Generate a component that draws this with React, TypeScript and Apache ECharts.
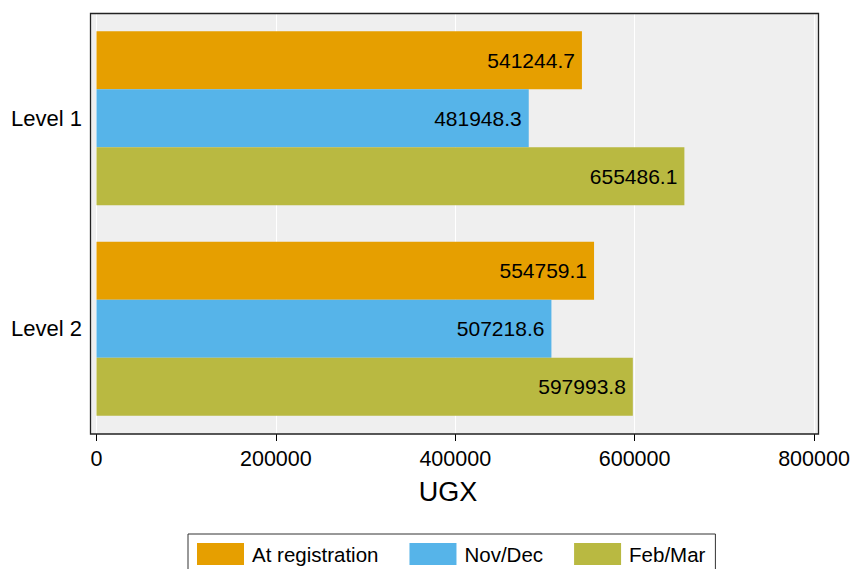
import React, { useEffect, useRef } from "react";
import * as echarts from "echarts";

const categories = ["Level 1", "Level 2"];
const seriesNames = ["At registration", "Nov/Dec", "Feb/Mar"];
const atRegistration = [541244.7, 554759.1];
const novDec = [481948.3, 507218.6];
const febMar = [655486.1, 597993.8];
const colors = ["#e69f00", "#56b4e9", "#b9b941"];
const axisTitle = "UGX";

const FONT = "'Liberation Sans', Arial, Helvetica, sans-serif";

export default function App() {
  const ref = useRef<HTMLDivElement>(null);
  useEffect(() => {
    document.body.style.margin = "0";
    const chart = echarts.init(ref.current!, null, { renderer: "svg" });
    const values = [atRegistration, novDec, febMar];
    chart.setOption({
      animation: false,
      textStyle: { fontFamily: FONT },
      grid: { left: 96.5, right: 853 - 814, top: 13, bottom: 569 - 434 },
      xAxis: {
        type: "value",
        min: 0,
        max: 800000,
        interval: 200000,
        axisLine: { show: false },
        axisTick: { show: true, length: 7, lineStyle: { color: "#000", width: 1 } },
        axisLabel: {
          color: "#000",
          fontSize: 21.5,
          margin: 14,
          fontFamily: FONT,
          formatter: (v: number) => String(v),
        },
        splitLine: { show: true, lineStyle: { color: "#ffffff", width: 1 } },
      },
      yAxis: {
        type: "category",
        data: categories,
        inverse: true,
        axisLine: { show: false },
        axisTick: { show: false },
        axisLabel: { color: "#000", fontSize: 22, margin: 14.5, fontFamily: FONT },
        splitLine: { show: false },
      },
      legend: {
        left: 188,
        top: 534,
        orient: "horizontal",
        data: seriesNames,
        icon: "rect",
        itemWidth: 47,
        itemHeight: 22,
        itemGap: 31,
        padding: [9, 10, 9, 9],
        borderColor: "#333",
        borderWidth: 1,
        textStyle: { color: "#000", fontSize: 20.5, fontFamily: FONT, padding: [0, 0, 0, 3] },
      },
      graphic: [
        {
          type: "rect",
          z: -10,
          silent: true,
          shape: { x: 90.5, y: 13.5, width: 728, height: 420.5 },
          style: { fill: "#efefef", stroke: "none" },
        },
        {
          type: "rect",
          z: 100,
          silent: true,
          shape: { x: 90.5, y: 13.5, width: 728, height: 420.5 },
          style: { fill: "none", stroke: "#222", lineWidth: 1.3 },
        },
        {
          type: "text",
          x: 448,
          y: 492,
          silent: true,
          style: {
            text: axisTitle,
            font: `27px ${FONT}`,
            fill: "#000",
            textAlign: "center",
            textVerticalAlign: "middle",
          },
        },
      ],
      series: seriesNames.map((name, i) => ({
        name,
        type: "bar",
        data: values[i],
        barWidth: 58,
        barGap: "0%",
        itemStyle: { color: colors[i] },
        label: {
          show: true,
          position: "insideRight",
          distance: 7,
          color: "#000",
          fontSize: 21,
          fontFamily: FONT,
        },
      })),
    });
    return () => chart.dispose();
  }, []);
  return (
    <div
      ref={ref}
      style={{ position: "absolute", left: 0, top: 0, width: 853, height: 569 }}
    />
  );
}
